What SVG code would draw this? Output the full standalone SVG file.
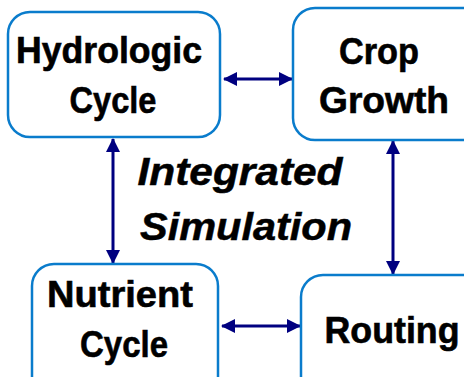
<svg xmlns="http://www.w3.org/2000/svg" width="464" height="377" viewBox="0 0 464 377">
<style>
.box{fill:#fff;stroke:#0a7ccc;stroke-width:2.5}
.t{font-family:"Liberation Sans",Arial,sans-serif;font-weight:bold;font-size:36px;fill:#000;stroke:#000;stroke-width:0.6;text-anchor:middle}
.ti{font-family:"Liberation Sans",Arial,sans-serif;font-weight:bold;font-style:italic;font-size:38px;fill:#000;stroke:#000;stroke-width:0.5;text-anchor:middle}
.c{stroke:#000080;stroke-width:3;fill:none;marker-start:url(#a);marker-end:url(#a)}
</style>
<defs>
<marker id="a" markerUnits="userSpaceOnUse" markerWidth="14" markerHeight="14" viewBox="0 0 14 14" refX="13" refY="7" orient="auto-start-reverse">
<path d="M0,0 L14,7 L0,14 z" fill="#000080"/>
</marker>
</defs>
<rect width="464" height="377" fill="#fff"/>
<g id="connectors">
<line class="c" x1="224" y1="79" x2="292" y2="79"/>
<line class="c" x1="113" y1="139" x2="113" y2="263"/>
<line class="c" x1="393" y1="141" x2="393" y2="274"/>
<line class="c" x1="222" y1="326" x2="300" y2="326"/>
</g>
<g id="hydrologic">
<rect class="box" x="8" y="12" width="212" height="125" rx="22"/>
<text class="t" x="109" y="63" textLength="186" lengthAdjust="spacingAndGlyphs">Hydrologic</text>
<text class="t" x="113" y="113" textLength="87" lengthAdjust="spacingAndGlyphs">Cycle</text>
</g>
<g id="crop">
<rect class="box" x="293" y="8" width="200" height="132" rx="22"/>
<text class="t" x="379" y="64" textLength="80" lengthAdjust="spacingAndGlyphs">Crop</text>
<text class="t" x="384" y="113" textLength="130" lengthAdjust="spacingAndGlyphs">Growth</text>
</g>
<g id="nutrient">
<rect class="box" x="32" y="264" width="186" height="140" rx="22"/>
<text class="t" x="120" y="307" textLength="146" lengthAdjust="spacingAndGlyphs">Nutrient</text>
<text class="t" x="124" y="357" textLength="88" lengthAdjust="spacingAndGlyphs">Cycle</text>
</g>
<g id="routing">
<rect class="box" x="301" y="275" width="200" height="140" rx="22"/>
<text class="t" x="392" y="343" textLength="135" lengthAdjust="spacingAndGlyphs">Routing</text>
</g>
<g id="label">
<text class="ti" x="240" y="185" textLength="205" lengthAdjust="spacingAndGlyphs">Integrated</text>
<text class="ti" x="246" y="240" textLength="212" lengthAdjust="spacingAndGlyphs">Simulation</text>
</g>
</svg>
